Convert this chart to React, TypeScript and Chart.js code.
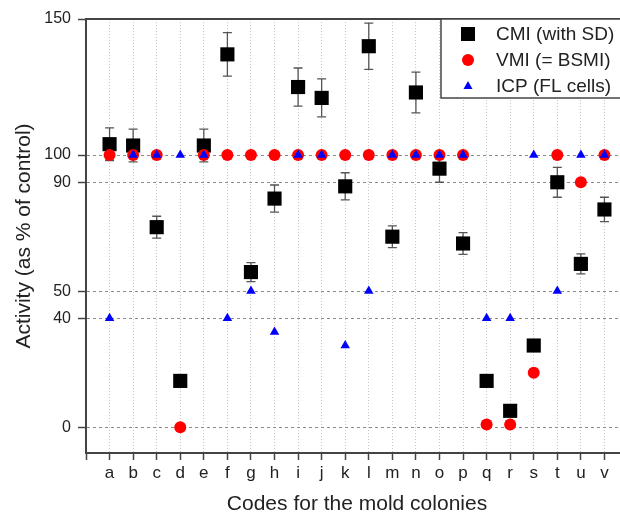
import React, { useEffect, useRef } from 'react';
import { Chart, registerables } from 'chart.js';

Chart.register(...registerables);

const codes = ['a', 'b', 'c', 'd', 'e', 'f', 'g', 'h', 'i', 'j', 'k', 'l', 'm', 'n', 'o', 'p', 'q', 'r', 's', 't', 'u', 'v'];
const cmiValues = [104, 103.5, 73.5, 17, 103.5, 137, 57, 84, 125, 121, 88.5, 140, 70, 123, 95, 67.5, 17, 6, 30, 90, 60, 80];
const cmiSD = [6, 6, 4, 2, 6, 8, 3.5, 5, 7, 7, 5, 8.5, 4, 7.5, 5, 4, 2, 2, 2, 5.5, 3.7, 4.5];
const vmiValues = [100, 100, 100, 0, 100, 100, 100, 100, 100, 100, 100, 100, 100, 100, 100, 100, 1, 1, 20, 100, 90, 100];
const icpValues = [40, 100, 100, 100, 100, 40, 50, 35, 100, 100, 30, 50, 100, 100, 100, 100, 40, 40, 100, 50, 100, 100];
const yTickValues = [0, 40, 50, 90, 100, 150];
const legendLabels = ['CMI (with SD)', 'VMI (= BSMI)', 'ICP (FL cells)'];
const xTitle = 'Codes for the mold colonies';
const yTitle = 'Activity (as % of control)';

const FONT = '"Liberation Sans", Arial, Helvetica, sans-serif';
const AXIS = '#444444';
const TEXT = '#222222';

const errorBarPlugin = {
  id: 'errorBars',
  beforeDatasetsDraw(chart: any) {
    const { ctx } = chart;
    const x = chart.scales.x;
    const y = chart.scales.y;
    ctx.save();
    ctx.strokeStyle = '#555555';
    ctx.lineWidth = 1.3;
    cmiValues.forEach((v, i) => {
      const sd = cmiSD[i];
      const px = x.getPixelForValue(i);
      const yt = y.getPixelForValue(v + sd);
      const yb = y.getPixelForValue(v - sd);
      ctx.beginPath();
      ctx.moveTo(px, yt);
      ctx.lineTo(px, yb);
      ctx.moveTo(px - 4.5, yt);
      ctx.lineTo(px + 4.5, yt);
      ctx.moveTo(px - 4.5, yb);
      ctx.lineTo(px + 4.5, yb);
      ctx.stroke();
    });
    ctx.restore();
  },
};

const frameLegendPlugin = {
  id: 'frameLegend',
  afterDraw(chart: any) {
    const { ctx, chartArea } = chart;
    const { left, right, top, bottom } = chartArea;
    ctx.save();
    ctx.strokeStyle = AXIS;
    ctx.lineWidth = 2;
    ctx.beginPath();
    ctx.moveTo(left - 1, top);
    ctx.lineTo(right, top);
    ctx.lineTo(right, bottom);
    ctx.stroke();

    // legend box
    const bx = right - 187;
    const by = top;
    const bw = 187;
    const bh = 79;
    ctx.fillStyle = '#ffffff';
    ctx.fillRect(bx, by, bw, bh);
    ctx.lineWidth = 1.5;
    ctx.strokeRect(bx, by, bw, bh);

    const mx = bx + 27;
    const tx = bx + 55;
    const rows = [by + 15, by + 41, by + 67];
    // square
    ctx.fillStyle = '#000000';
    ctx.fillRect(mx - 7, rows[0] - 7, 14, 14);
    // circle
    ctx.fillStyle = '#ff0000';
    ctx.beginPath();
    ctx.arc(mx, rows[1], 6, 0, Math.PI * 2);
    ctx.fill();
    // triangle
    ctx.fillStyle = '#0000ff';
    ctx.beginPath();
    ctx.moveTo(mx, rows[2] - 5);
    ctx.lineTo(mx + 4.5, rows[2] + 3);
    ctx.lineTo(mx - 4.5, rows[2] + 3);
    ctx.closePath();
    ctx.fill();

    ctx.fillStyle = TEXT;
    ctx.font = `19px ${FONT}`;
    ctx.textBaseline = 'middle';
    ctx.textAlign = 'left';
    legendLabels.forEach((t, i) => ctx.fillText(t, tx, rows[i] + 1));
    ctx.restore();
  },
};

export default function App() {
  const ref = useRef<HTMLCanvasElement>(null);

  useEffect(() => {
    if (!ref.current) return;
    const toPts = (arr: number[]) => arr.map((v, i) => ({ x: i, y: v }));
    const chart = new Chart(ref.current, {
      type: 'scatter',
      data: {
        datasets: [
          {
            label: legendLabels[0],
            data: toPts(cmiValues),
            pointStyle: 'rect',
            pointRadius: 10,
            pointHoverRadius: 10,
            backgroundColor: '#000000',
            borderColor: '#000000',
            borderWidth: 0,
            order: 3,
          },
          {
            label: legendLabels[1],
            data: toPts(vmiValues),
            pointStyle: 'circle',
            pointRadius: 6,
            pointHoverRadius: 6,
            backgroundColor: '#ff0000',
            borderColor: '#ff0000',
            borderWidth: 0,
            order: 2,
          },
          {
            label: legendLabels[2],
            data: toPts(icpValues),
            pointStyle: 'triangle',
            pointRadius: 5.5,
            pointHoverRadius: 5.5,
            backgroundColor: '#0000ff',
            borderColor: '#0000ff',
            borderWidth: 0,
            order: 1,
          },
        ],
      },
      options: {
        animation: false,
        responsive: false,
        devicePixelRatio: 1,
        layout: { padding: { top: 19, right: 12, bottom: 0, left: 0 } },
        plugins: {
          legend: { display: false },
          tooltip: { enabled: false },
        },
        scales: {
          x: {
            type: 'linear',
            min: -1,
            max: codes.length,
            afterFit: (s: any) => {
              s.height = 67;
            },
            afterBuildTicks: (s: any) => {
              const t = [];
              for (let i = -1; i <= codes.length; i++) t.push({ value: i });
              s.ticks = t;
            },
            ticks: {
              autoSkip: false,
              maxRotation: 0,
              padding: 3,
              color: TEXT,
              font: { family: FONT, size: 17 },
              callback: (v: any) => (codes[v as number] !== undefined ? codes[v as number] : ''),
            },
            grid: {
              color: (c: any) => (c.tick && c.tick.value >= 0 && c.tick.value < codes.length ? '#c8c8c8' : 'rgba(0,0,0,0)'),
              lineWidth: 1,
              tickColor: AXIS,
              tickLength: 7,
              tickWidth: 1.5,
            },
            border: { display: true, color: AXIS, width: 2, dash: [1, 2] },
            title: {
              display: true,
              text: xTitle,
              color: TEXT,
              font: { family: FONT, size: 21 },
              padding: { top: 0, bottom: 3 },
            },
          },
          y: {
            type: 'linear',
            min: -9.5,
            max: 150,
            afterFit: (s: any) => {
              s.width = 86;
            },
            afterBuildTicks: (s: any) => {
              s.ticks = yTickValues.map((v) => ({ value: v }));
            },
            ticks: {
              autoSkip: false,
              padding: 7,
              color: TEXT,
              font: { family: FONT, size: 16 },
            },
            grid: {
              color: (c: any) => (c.tick && c.tick.value === 150 ? 'rgba(0,0,0,0)' : '#8a8a8a'),
              lineWidth: 1,
              tickColor: AXIS,
              tickLength: 8,
              tickWidth: 1.5,
            },
            border: { display: true, color: AXIS, width: 2, dash: [3, 3] },
            title: {
              display: true,
              text: yTitle,
              color: TEXT,
              font: { family: FONT, size: 21 },
              padding: { top: 12, bottom: 0 },
            },
          },
        },
      },
      plugins: [errorBarPlugin, frameLegendPlugin],
    } as any);
    return () => chart.destroy();
  }, []);

  return (
    <div style={{ position: 'absolute', left: 0, top: 0, width: 620, height: 520, overflow: 'hidden', background: '#fff' }}>
      <canvas ref={ref} width={640} height={520} style={{ width: 640, height: 520, display: 'block' }} />
    </div>
  );
}
